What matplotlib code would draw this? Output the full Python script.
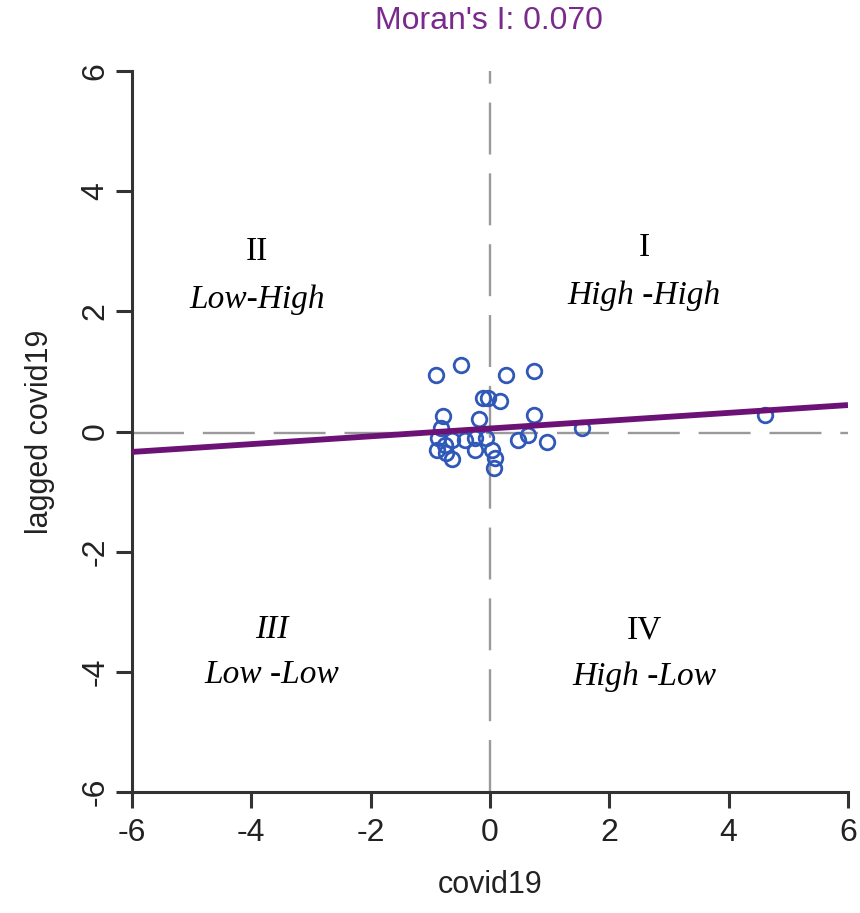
import matplotlib
matplotlib.use("Agg")
import matplotlib.pyplot as plt
import numpy as np

# data
x_vals = [-0.90, -0.49, 0.26, 0.74, -0.12, -0.04, 0.17, -0.78, -0.18, 0.74,
          -0.82, -0.87, -0.64, -0.42, -0.25, -0.06, 0.47, 0.64, 0.95, -0.89,
          -0.73, -0.64, -0.25, 0.03, 0.08, 0.06, -0.75, 1.55, 4.61]
y_vals = [0.94, 1.10, 0.94, 1.00, 0.56, 0.56, 0.51, 0.26, 0.21, 0.27,
          0.06, -0.11, -0.14, -0.14, -0.11, -0.11, -0.14, -0.06, -0.17, -0.31,
          -0.36, -0.45, -0.31, -0.31, -0.44, -0.61, -0.22, 0.06, 0.27]
morans_i = "0.070"
line_slope = 0.065
line_intercept = 0.05
mean_lag = -0.02
ticks = [-6, -4, -2, 0, 2, 4, 6]
quad_roman = ["I", "II", "III", "IV"]
quad_names = ["High -High", "Low-High", "Low -Low", "High -Low"]
quad_x = [2.58, -3.9, -3.65, 2.58]
quad_roman_y = [3.05, 2.99, -3.30, -3.30]
quad_name_y = [2.26, 2.19, -4.05, -4.09]

fig = plt.figure(figsize=(8.6, 9.13), dpi=100)
ax = fig.add_axes([132/860, 1-792/913, (848-132)/860, (792-71)/913])
ax.set_xlim(-6, 6)
ax.set_ylim(-6, 6)

ax.plot([0, 0], [-6, 6], color="#9a9a9a", lw=1.7, dashes=(22, 8), zorder=1)
ax.plot([-6, 6], [mean_lag, mean_lag], color="#9a9a9a", lw=1.7, dashes=(22, 8), zorder=1)

ax.plot(x_vals, y_vals, linestyle="none", marker="o", markersize=10.5,
        markerfacecolor="none", markeredgecolor="#2f58b8", markeredgewidth=2.0, zorder=2)

xl = np.array([-6, 6])
ax.plot(xl, line_intercept + line_slope*xl, color="#6c1276", lw=4.2, zorder=3, solid_capstyle="butt")

serif = "Liberation Serif"
for r, nm, px, ry, ny in zip(quad_roman, quad_names, quad_x, quad_roman_y, quad_name_y):
    st = "italic" if r == "III" else "normal"
    ax.text(px, ry, r, ha="center", va="center", fontsize=24, family=serif, style=st)
    ax.text(px, ny, nm, ha="center", va="center", fontsize=24, family=serif, style="italic")

for s in ["top", "right"]:
    ax.spines[s].set_visible(False)
for s in ["left", "bottom"]:
    ax.spines[s].set_linewidth(2.2)
    ax.spines[s].set_color("#333333")
ax.set_xticks(ticks)
ax.set_yticks(ticks)
ax.set_xticklabels([str(t) for t in ticks])
ax.set_yticklabels([str(t) for t in ticks], rotation=90, va="center")
ax.tick_params(length=11.5, width=2.2, color="#333333", labelsize=23, labelcolor="#222222")
ax.tick_params(axis="x", pad=7)
ax.tick_params(axis="y", pad=4)
sans = "Liberation Sans"
for lab in ax.get_xticklabels() + ax.get_yticklabels():
    lab.set_family(sans)

ax.set_xlabel("covid19", fontsize=22, family=sans, color="#222222", labelpad=16)
ax.set_ylabel("lagged covid19", fontsize=22, family=sans, color="#222222", labelpad=18)
fig.text(489/860, 1-21/913, "Moran's I: " + morans_i, ha="center", va="center", fontsize=23,
         family=sans, color="#7a2a8c")

fig.savefig("out.png", dpi=100)
